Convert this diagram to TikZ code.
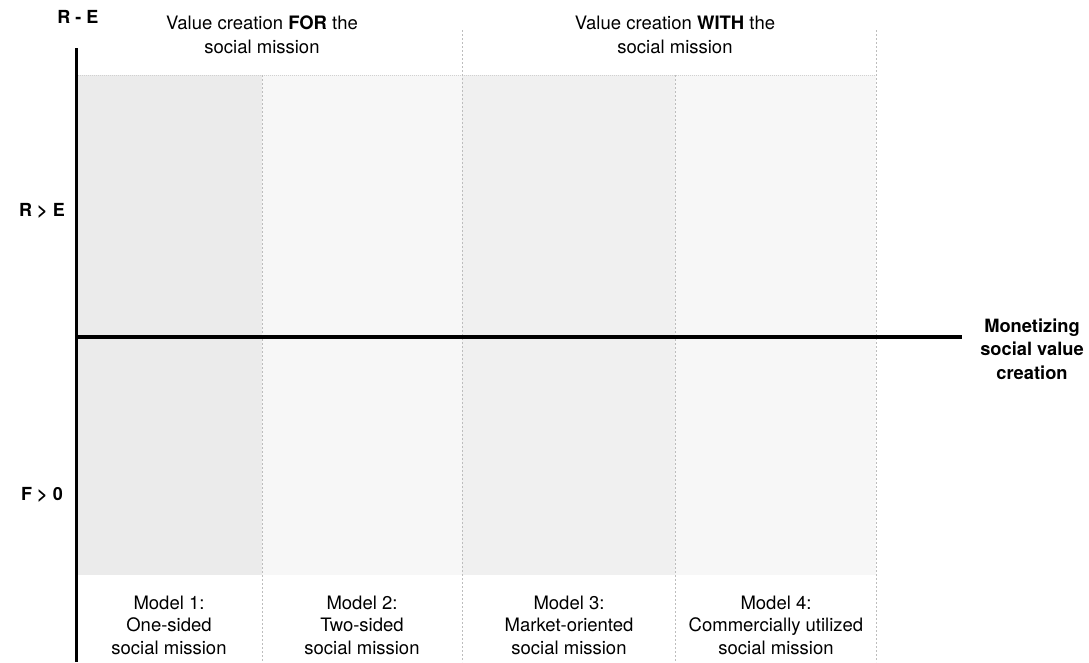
\documentclass[tikz,border=0pt]{standalone}
\usepackage{fontspec}
\setmainfont{TeX Gyre Heros}
\usetikzlibrary{positioning, calc, backgrounds}
\definecolor{ColA}{HTML}{EBEBEB}
\definecolor{ColB}{HTML}{F7F7F7}
\definecolor{ColC}{HTML}{F0F0F0}
\definecolor{SepGray}{HTML}{BDBDBD}

\begin{document}
\begin{tikzpicture}[x=1pt, y=-1pt,
        axis/.style={black, line width=3.5pt},
        sep/.style={SepGray, line width=0.7pt, dash pattern=on 2pt off 2pt},
        head/.style={align=center, font=\fontsize{18.5}{23.5}\selectfont},
        model/.style={align=center, font=\fontsize{18.5}{22.5}\selectfont},
        lbl/.style={font=\fontsize{18}{20}\selectfont\bfseries},
        mon/.style={align=center, font=\fontsize{18.3}{23.5}\selectfont\bfseries}]

        \useasboundingbox (0,0) rectangle (1089,662);

        % shaded columns
        \fill[ColA] (76,75) rectangle (262,575);
        \fill[ColB] (262,75) rectangle (462,575);
        \fill[ColC] (462,75) rectangle (675,575);
        \fill[ColB] (675,75) rectangle (876,575);
        \draw[SepGray!70, line width=0.6pt, dash pattern=on 1pt off 1pt] (76,75) -- (876,75);

        % column separators
        \draw[sep] (262,75) -- (262,662);
        \draw[sep] (462,30) -- (462,662);
        \draw[sep] (675,75) -- (675,662);
        \draw[sep] (876,30) -- (876,662);

        % axes
        \coordinate (ytop) at (76,48);
        \coordinate (ybot) at (76,662);
        \coordinate (xleft) at (76,337);
        \coordinate (xright) at (962,337);
        \draw[axis, line width=3pt] (ytop) -- (ybot);
        \draw[axis] (xleft) -- (xright);

        \node[lbl] (re) at (78,17) {R - E};
        \node[lbl] (rgte) at (42,211) {R > E};
        \node[lbl] (fgt) at (42,495) {F > 0};
        \node[mon] (monet) at (1032,349) {Monetizing\\social value\\creation};

        \node[head] (for) at (262,35) {Value creation \textbf{FOR} the\\social mission};
        \node[head] (with) at (675,35) {Value creation \textbf{WITH} the\\social mission};

        \node[model] (m1) at (169,625) {Model 1:\\One-sided\\social mission};
        \node[model] (m2) at (362,625) {Model 2:\\Two-sided\\social mission};
        \node[model] (m3) at (569,625) {Model 3:\\Market-oriented\\social mission};
        \node[model] (m4) at (776,625) {Model 4:\\Commercially utilized\\social mission};
    \end{tikzpicture}
\end{document}
